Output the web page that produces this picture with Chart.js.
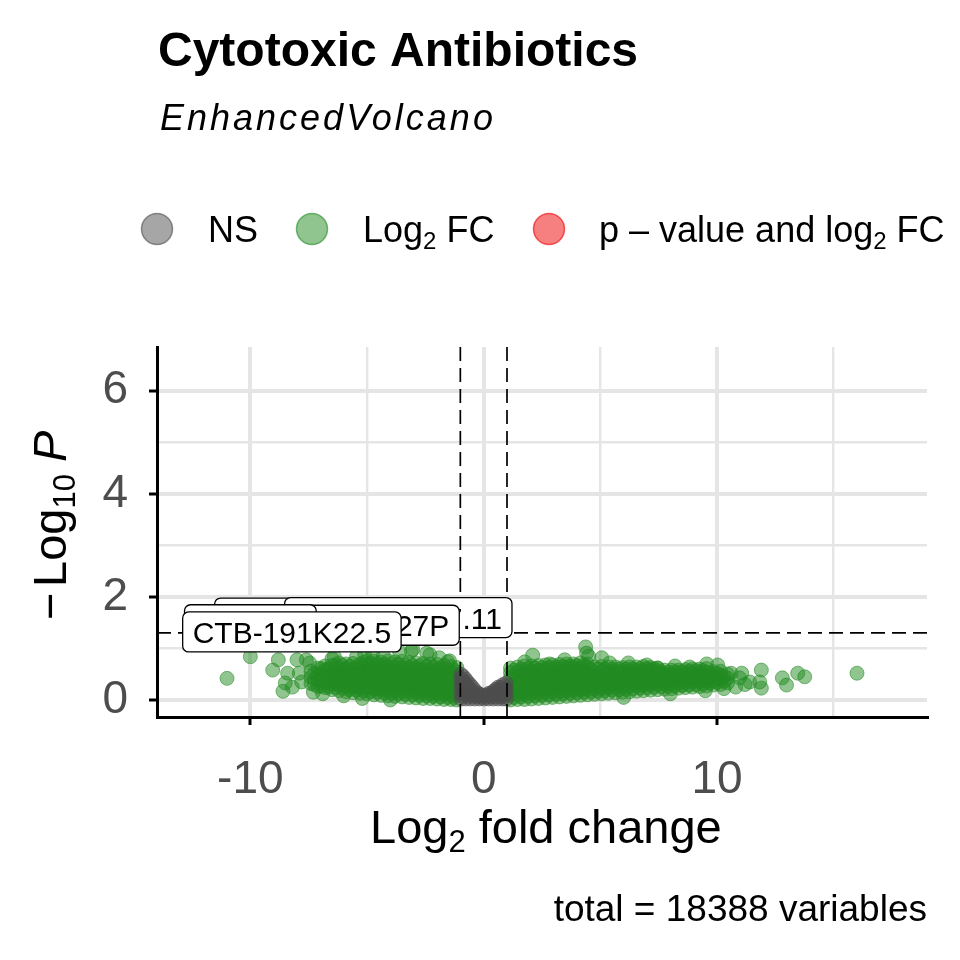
<!DOCTYPE html>
<html>
<head>
<meta charset="utf-8">
<script src="https://cdn.jsdelivr.net/npm/chart.js@4.4.1/dist/chart.umd.min.js"></script>
<style>
html,body{margin:0;padding:0;background:#fff;}
#wrap{width:960px;height:960px;position:relative;}
</style>
</head>
<body>
<div id="wrap"><canvas id="c" width="960" height="960"></canvas></div>
<script>
// ---------- data ----------
const titleText = "Cytotoxic Antibiotics";
const subtitleText = "EnhancedVolcano";
const captionText = "total = 18388 variables";
const legendNames = ["NS", "Log2 FC", "p - value and log2 FC"];

const xTicks = [-10, -5, 0, 5, 10, 15];
const xMajor = [-10, 0, 10];
const yTicks = [0, 1, 2, 3, 4, 5, 6];
const yMajor = [0, 2, 4, 6];

const fcCut = 1;        // log2 FC cut-off
const pCutLog = 1.301;  // -log10(0.05)

// NS points (|log2FC| < 1): columns [log2FC, [-log10 P ...]]
const nsCols = [
  [-0.97, [0.02, 0.12, 0.22, 0.32, 0.42, 0.50]],
  [-0.88, [0.07, 0.17, 0.27, 0.37, 0.46]],
  [-0.78, [0.02, 0.12, 0.22, 0.32, 0.41]],
  [-0.68, [0.07, 0.17, 0.27, 0.35]],
  [-0.58, [0.02, 0.11, 0.21, 0.30]],
  [-0.48, [0.07, 0.16, 0.25]],
  [-0.38, [0.02, 0.10, 0.19]],
  [-0.28, [0.06, 0.14]],
  [-0.18, [0.02, 0.09, 0.12]],
  [-0.08, [0.05, 0.09]],
  [0.02,  [0.02, 0.07]],
  [0.12,  [0.05, 0.10]],
  [0.22,  [0.02, 0.09, 0.13]],
  [0.32,  [0.06, 0.13]],
  [0.42,  [0.02, 0.10, 0.17]],
  [0.52,  [0.06, 0.15, 0.21]],
  [0.62,  [0.02, 0.11, 0.21, 0.25]],
  [0.72,  [0.06, 0.16, 0.25]],
  [0.82,  [0.02, 0.11, 0.21, 0.30]],
  [0.90,  [0.07, 0.17, 0.27]],
  [0.97,  [0.02, 0.12, 0.22, 0.33]]
];

// Log2 FC points, dense left cloud: [log2FC, [-log10 P ...]]
const fcLeftCols = [
  [-7.4, [0.32, 0.44, 0.56]],
  [-7.25,[0.30, 0.41, 0.52]],
  [-7.1, [0.26, 0.38, 0.50, 0.62]],
  [-6.95,[0.27, 0.38, 0.50, 0.61]],
  [-6.8, [0.24, 0.35, 0.47, 0.58, 0.66]],
  [-6.65,[0.25, 0.36, 0.48, 0.60]],
  [-6.5, [0.20, 0.31, 0.43, 0.55, 0.67]],
  [-6.35,[0.24, 0.35, 0.47, 0.58, 0.68]],
  [-6.2, [0.18, 0.29, 0.40, 0.52, 0.63, 0.72]],
  [-6.05,[0.23, 0.34, 0.46, 0.57, 0.67]],
  [-5.9, [0.16, 0.27, 0.38, 0.50, 0.61, 0.70]],
  [-5.75,[0.20, 0.31, 0.43, 0.54, 0.65]],
  [-5.6, [0.14, 0.25, 0.37, 0.48, 0.60, 0.71]],
  [-5.45,[0.19, 0.30, 0.42, 0.53, 0.64]],
  [-5.3, [0.13, 0.24, 0.35, 0.47, 0.58, 0.70]],
  [-5.15,[0.18, 0.29, 0.41, 0.52, 0.63, 0.73]],
  [-5.0, [0.12, 0.23, 0.34, 0.46, 0.57, 0.69, 0.76]],
  [-4.85,[0.16, 0.27, 0.39, 0.50, 0.62, 0.72]],
  [-4.7, [0.10, 0.21, 0.33, 0.44, 0.56, 0.67, 0.75]],
  [-4.55,[0.15, 0.26, 0.38, 0.49, 0.60, 0.71]],
  [-4.4, [0.09, 0.20, 0.31, 0.43, 0.54, 0.66, 0.74]],
  [-4.25,[0.14, 0.25, 0.36, 0.48, 0.59, 0.70]],
  [-4.1, [0.08, 0.19, 0.30, 0.42, 0.53, 0.65, 0.76]],
  [-3.95,[0.13, 0.24, 0.35, 0.47, 0.58, 0.70]],
  [-3.8, [0.07, 0.18, 0.29, 0.41, 0.52, 0.64, 0.74]],
  [-3.65,[0.12, 0.23, 0.34, 0.46, 0.57, 0.69]],
  [-3.5, [0.06, 0.17, 0.28, 0.40, 0.51, 0.63, 0.75]],
  [-3.35,[0.11, 0.22, 0.33, 0.45, 0.56, 0.68]],
  [-3.2, [0.05, 0.16, 0.27, 0.39, 0.50, 0.62, 0.73]],
  [-3.05,[0.10, 0.21, 0.32, 0.44, 0.55, 0.67]],
  [-2.9, [0.04, 0.15, 0.27, 0.38, 0.50, 0.61, 0.72]],
  [-2.75,[0.09, 0.20, 0.31, 0.43, 0.55, 0.66]],
  [-2.6, [0.03, 0.14, 0.26, 0.37, 0.49, 0.60, 0.71]],
  [-2.45,[0.08, 0.19, 0.30, 0.42, 0.54, 0.65]],
  [-2.3, [0.03, 0.13, 0.25, 0.36, 0.48, 0.59, 0.70]],
  [-2.15,[0.07, 0.18, 0.29, 0.41, 0.53, 0.64]],
  [-2.0, [0.02, 0.12, 0.24, 0.35, 0.47, 0.58, 0.69]],
  [-1.85,[0.06, 0.17, 0.28, 0.40, 0.52, 0.62]],
  [-1.7, [0.01, 0.11, 0.23, 0.34, 0.46, 0.57, 0.67]],
  [-1.55,[0.05, 0.16, 0.27, 0.38, 0.50, 0.60]],
  [-1.4, [0.01, 0.10, 0.22, 0.33, 0.44, 0.55, 0.65]],
  [-1.28,[0.05, 0.15, 0.26, 0.37, 0.48, 0.58]],
  [-1.15,[0.00, 0.10, 0.21, 0.32, 0.43, 0.54, 0.63]]
];

// Log2 FC points, dense right cloud
const fcRightCols = [
  [1.15, [0.00, 0.10, 0.21, 0.32, 0.43, 0.53, 0.62]],
  [1.3,  [0.05, 0.15, 0.26, 0.37, 0.48, 0.58]],
  [1.45, [0.01, 0.11, 0.22, 0.33, 0.44, 0.55, 0.64]],
  [1.6,  [0.06, 0.16, 0.27, 0.38, 0.49, 0.60]],
  [1.75, [0.01, 0.12, 0.23, 0.34, 0.45, 0.56, 0.66]],
  [1.9,  [0.07, 0.17, 0.28, 0.39, 0.50, 0.61]],
  [2.05, [0.02, 0.13, 0.24, 0.35, 0.46, 0.57, 0.66]],
  [2.2,  [0.08, 0.18, 0.29, 0.40, 0.51, 0.62]],
  [2.35, [0.03, 0.14, 0.25, 0.36, 0.47, 0.58, 0.67]],
  [2.5,  [0.09, 0.19, 0.30, 0.41, 0.52, 0.63]],
  [2.65, [0.04, 0.15, 0.26, 0.37, 0.48, 0.59, 0.68]],
  [2.8,  [0.10, 0.20, 0.31, 0.42, 0.53, 0.63]],
  [2.95, [0.05, 0.16, 0.27, 0.38, 0.49, 0.60, 0.68]],
  [3.1,  [0.11, 0.21, 0.32, 0.43, 0.54, 0.64]],
  [3.25, [0.06, 0.17, 0.28, 0.39, 0.50, 0.61, 0.69]],
  [3.4,  [0.12, 0.22, 0.33, 0.44, 0.55, 0.65]],
  [3.55, [0.07, 0.18, 0.29, 0.40, 0.51, 0.62, 0.70]],
  [3.7,  [0.13, 0.23, 0.34, 0.45, 0.56, 0.66]],
  [3.85, [0.08, 0.19, 0.30, 0.41, 0.52, 0.63, 0.70]],
  [4.0,  [0.14, 0.24, 0.35, 0.46, 0.57, 0.67]],
  [4.15, [0.09, 0.20, 0.31, 0.42, 0.53, 0.63, 0.72]],
  [4.3,  [0.15, 0.25, 0.36, 0.47, 0.58, 0.68]],
  [4.45, [0.10, 0.21, 0.32, 0.43, 0.54, 0.64, 0.70]],
  [4.6,  [0.16, 0.27, 0.38, 0.49, 0.59]],
  [4.75, [0.11, 0.22, 0.33, 0.44, 0.54, 0.64]],
  [4.9,  [0.17, 0.28, 0.39, 0.49, 0.60]],
  [5.05, [0.12, 0.23, 0.34, 0.45, 0.55, 0.65]],
  [5.2,  [0.18, 0.29, 0.40, 0.50, 0.60]],
  [5.35, [0.13, 0.24, 0.35, 0.45, 0.55, 0.64]],
  [5.5,  [0.19, 0.30, 0.40, 0.50, 0.60]],
  [5.65, [0.14, 0.25, 0.35, 0.46, 0.56, 0.64]],
  [5.8,  [0.20, 0.31, 0.41, 0.51, 0.60]],
  [5.95, [0.15, 0.26, 0.36, 0.46, 0.56, 0.63]],
  [6.1,  [0.21, 0.32, 0.42, 0.51, 0.60]],
  [6.25, [0.16, 0.27, 0.37, 0.47, 0.56, 0.64]],
  [6.4,  [0.22, 0.32, 0.42, 0.52, 0.60]],
  [6.55, [0.17, 0.28, 0.38, 0.48, 0.57, 0.64]],
  [6.7,  [0.23, 0.33, 0.43, 0.52, 0.61]],
  [6.85, [0.18, 0.29, 0.39, 0.48, 0.57, 0.65]],
  [7.0,  [0.24, 0.34, 0.44, 0.53, 0.61]],
  [7.15, [0.19, 0.30, 0.40, 0.49, 0.58, 0.63]],
  [7.3,  [0.25, 0.35, 0.45, 0.53, 0.60]],
  [7.45, [0.20, 0.31, 0.40, 0.49, 0.57, 0.62]],
  [7.6,  [0.26, 0.36, 0.45, 0.54]],
  [7.75, [0.21, 0.31, 0.41, 0.50, 0.58]],
  [7.9,  [0.27, 0.37, 0.46, 0.54]],
  [8.05, [0.22, 0.32, 0.42, 0.50, 0.58]],
  [8.2,  [0.27, 0.37, 0.46, 0.55]],
  [8.35, [0.23, 0.33, 0.42, 0.51, 0.58]],
  [8.5,  [0.28, 0.38, 0.47, 0.55]],
  [8.65, [0.24, 0.34, 0.43, 0.51, 0.59]],
  [8.8,  [0.29, 0.39, 0.48, 0.56]],
  [8.95, [0.25, 0.35, 0.44, 0.52, 0.60]],
  [9.1,  [0.30, 0.40, 0.49, 0.57]],
  [9.25, [0.26, 0.36, 0.45, 0.53, 0.60]],
  [9.4,  [0.31, 0.41, 0.50, 0.57]],
  [9.55, [0.27, 0.37, 0.46, 0.54, 0.61]],
  [9.7,  [0.33, 0.42, 0.51]],
  [9.85, [0.29, 0.38, 0.47, 0.55]],
  [10.0, [0.34, 0.43, 0.52]],
  [10.15,[0.30, 0.40, 0.48, 0.56]],
  [10.3, [0.36, 0.45]],
  [10.45,[0.33, 0.42, 0.50]]
];

// Log2 FC scattered points around the clouds
const fcOutX = [-11.0, -10.0, -9.04, -8.8, -8.5, -8.6, -8.4, -8.0, -7.9, -7.6, -7.46, -8.2, -7.8, -6.5, -6.4,
  -5.45, -5.1, -4.76, -4.3, -3.6, -3.1, -3.04, -2.44, -2.3, -1.9, -1.54, -1.46, -6.0, -5.2, -4.0, -7.3, -6.9,
  1.76, 2.1, 2.83, 3.47, 4.37, 4.41, 4.5, 5.06, 5.4, 6.2, 6.99, 7.46, 8.2, 8.83, 9.56, 10.03, 10.6, 11.06,
  10.97, 11.4, 11.83, 11.9, 11.9, 12.8, 12.98, 13.46, 13.76, 16.0, 10.8, 11.2, 6.0, 8.0, 9.5, 10.3];
const fcOutY = [0.42, 0.84, 0.58, 0.78, 0.33, 0.17, 0.52, 0.78, 0.52, 0.78, 0.72, 0.25, 0.35, 0.80, 0.84,
  0.84, 0.88, 0.91, 0.86, 0.93, 0.95, 0.98, 0.91, 0.88, 0.82, 0.74, 0.76, 0.08, 0.03, 0.00, 0.15, 0.12,
  0.74, 0.87, 0.70, 0.78, 1.03, 0.91, 0.85, 0.82, 0.72, 0.72, 0.68, 0.62, 0.66, 0.64, 0.70, 0.68, 0.52, 0.52,
  0.43, 0.35, 0.35, 0.58, 0.23, 0.43, 0.29, 0.52, 0.45, 0.52, 0.25, 0.30, 0.05, 0.12, 0.18, 0.22];

// p-value and log2 FC points: none in this chart
const sigX = [];
const sigY = [];

// repelled gene labels: text, box left edge (log2FC), box centre (-log10 P), back to front
const labText = ["RP11-445F12.1", "RP11-71F17.11", "RP11-1227P", "MT-ND6", "CTB-191K22.5"];
const labLeft = [-11.53, -8.53, -9.17, -12.82, -12.90];
const labMid  = [1.59, 1.60, 1.45, 1.46, 1.32];

// ---------- drawing ----------
const FONT = "'Liberation Sans', Arial, Helvetica, sans-serif";
const cols2pts = cols => cols.flatMap(([x, ys]) => ys.map(y => ({x: x, y: y})));

const nsData = cols2pts(nsCols);
const fcData = cols2pts(fcLeftCols).concat(cols2pts(fcRightCols))
  .concat(fcOutX.map((x, i) => ({x: x, y: fcOutY[i]})));
const sigData = sigX.map((x, i) => ({x: x, y: sigY[i]}));

function textWithSub(ctx, parts, x, y) {
  let pos = x;
  for (const p of parts) {
    ctx.font = (p[3] || '') + ' ' + p[1] + 'px ' + FONT;
    ctx.fillText(p[0], pos, y + (p[2] || 0));
    pos += ctx.measureText(p[0]).width;
  }
  return pos;
}

const annot = {
  id: 'annot',
  afterDatasetsDraw(chart) {
    const ctx = chart.ctx, a = chart.chartArea;
    const xs = chart.scales.x, ys = chart.scales.y;
    ctx.save();
    ctx.strokeStyle = '#000';
    ctx.lineWidth = 1.7;
    ctx.setLineDash([14, 7]);
    [-fcCut, fcCut].forEach(v => {
      const px = xs.getPixelForValue(v);
      ctx.beginPath(); ctx.moveTo(px, a.top); ctx.lineTo(px, a.bottom); ctx.stroke();
    });
    const py = ys.getPixelForValue(pCutLog);
    ctx.beginPath(); ctx.moveTo(a.left, py); ctx.lineTo(a.right, py); ctx.stroke();
    ctx.setLineDash([]);
    ctx.font = '30px ' + FONT;
    ctx.textBaseline = 'alphabetic';
    labText.forEach((t, i) => {
      const w = ctx.measureText(t).width + 20;
      const h = 40;
      const l = xs.getPixelForValue(labLeft[i]);
      const cy = ys.getPixelForValue(labMid[i]);
      const top = cy - h / 2;
      ctx.beginPath();
      ctx.roundRect(l, top, w, h, 6);
      ctx.fillStyle = '#fff';
      ctx.fill();
      ctx.lineWidth = 1.3;
      ctx.strokeStyle = '#000';
      ctx.stroke();
      ctx.fillStyle = '#000';
      ctx.fillText(t, l + 10, cy + 11);
    });
    ctx.restore();
  },
  afterDraw(chart) {
    const ctx = chart.ctx;
    ctx.save();
    ctx.fillStyle = '#000';
    ctx.textBaseline = 'alphabetic';
    ctx.textAlign = 'left';
    ctx.font = 'bold 48px ' + FONT;
    ctx.fillText(titleText, 158, 66);
    ctx.font = 'italic 36px ' + FONT;
    ctx.letterSpacing = '3px';
    ctx.fillText(subtitleText, 160, 130);
    ctx.letterSpacing = '0px';
    const lg = [['rgba(77,77,77,0.5)', 'rgba(77,77,77,0.6)', 157],
                ['rgba(34,139,34,0.5)', 'rgba(34,139,34,0.6)', 312],
                ['rgba(238,0,0,0.5)', 'rgba(238,0,0,0.6)', 549]];
    lg.forEach(g => {
      ctx.beginPath();
      ctx.arc(g[2], 229, 15.5, 0, Math.PI * 2);
      ctx.fillStyle = g[0]; ctx.fill();
      ctx.lineWidth = 1.5; ctx.strokeStyle = g[1]; ctx.stroke();
    });
    ctx.fillStyle = '#000';
    textWithSub(ctx, [[legendNames[0], 36]], 208, 242);
    textWithSub(ctx, [['Log', 36], ['2', 24, 7], [' FC', 36]], 363, 242);
    textWithSub(ctx, [['p \u2013 value and log', 36], ['2', 24, 7], [' FC', 36]], 599, 242);
    textWithSub(ctx, [['Log', 47], ['2', 31, 9], [' fold change', 47]], 370, 843);
    ctx.save();
    ctx.translate(66, 620);
    ctx.rotate(-Math.PI / 2);
    ctx.font = '47px ' + FONT;
    ctx.fillText('\u2212', 0, 0);
    let p = 33;
    p = textWithSub(ctx, [['Log', 47], ['10', 31, 9]], p, 0);
    textWithSub(ctx, [['P', 47, 0, 'italic']], p + 12, 0);
    ctx.restore();
    ctx.font = '37px ' + FONT;
    ctx.textAlign = 'right';
    ctx.fillText(captionText, 927, 921);
    ctx.restore();
  }
};

const isMaj = (arr, c) => c && c.tick && arr.includes(c.tick.value);

new Chart(document.getElementById('c'), {
  type: 'scatter',
  data: {
    datasets: [
      {label: legendNames[0], data: nsData, backgroundColor: 'rgba(77,77,77,0.5)',
       borderColor: 'rgba(77,77,77,0.55)', borderWidth: 1, pointRadius: 7},
      {label: legendNames[1], data: fcData, backgroundColor: 'rgba(34,139,34,0.5)',
       borderColor: 'rgba(34,139,34,0.55)', borderWidth: 1, pointRadius: 7},
      {label: legendNames[2], data: sigData, backgroundColor: 'rgba(238,0,0,0.5)',
       borderColor: 'rgba(238,0,0,0.55)', borderWidth: 1, pointRadius: 7}
    ]
  },
  options: {
    responsive: false,
    animation: false,
    events: [],
    layout: {padding: {top: 347, right: 33, left: 0, bottom: 0}},
    plugins: {legend: {display: false}, tooltip: {enabled: false}, title: {display: false}},
    scales: {
      x: {
        type: 'linear', min: -14, max: 19,
        afterBuildTicks: s => { s.ticks = xTicks.map(v => ({value: v})); },
        afterFit: s => { s.height = 243; },
        grid: {
          color: '#e5e5e5',
          lineWidth: c => isMaj(xMajor, c) ? 4 : 2.4,
          tickColor: c => isMaj(xMajor, c) ? '#000' : 'rgba(0,0,0,0)',
          tickLength: 8, tickWidth: 3
        },
        border: {display: true, color: '#000', width: 3},
        ticks: {
          autoSkip: false, maxRotation: 0, padding: 28, color: '#4d4d4d',
          font: {size: 46, family: FONT},
          callback: v => xMajor.includes(v) ? String(v) : ''
        }
      },
      y: {
        type: 'linear', min: -0.33, max: 6.85,
        afterBuildTicks: s => { s.ticks = yTicks.map(v => ({value: v})); },
        afterFit: s => { s.width = 157; },
        grid: {
          color: '#e5e5e5',
          lineWidth: c => isMaj(yMajor, c) ? 4 : 2.4,
          tickColor: c => isMaj(yMajor, c) ? '#000' : 'rgba(0,0,0,0)',
          tickLength: 8, tickWidth: 3
        },
        border: {display: true, color: '#000', width: 3},
        ticks: {
          autoSkip: false, padding: 21, color: '#4d4d4d',
          font: {size: 46, family: FONT},
          callback: v => yMajor.includes(v) ? String(v) : ''
        }
      }
    }
  },
  plugins: [annot]
});
</script>
</body>
</html>
